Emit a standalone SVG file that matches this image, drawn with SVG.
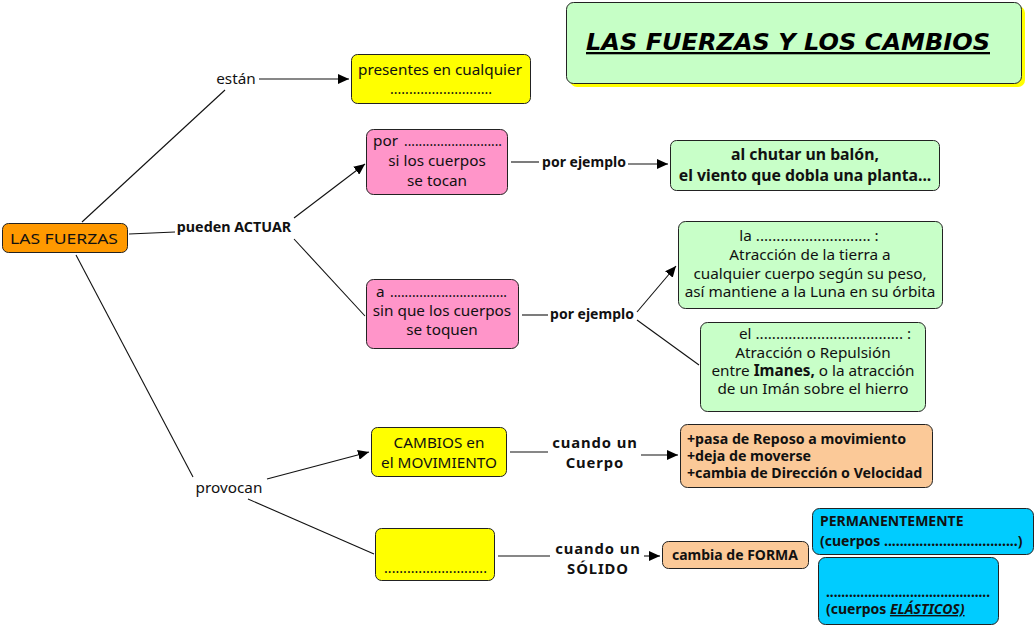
<svg xmlns="http://www.w3.org/2000/svg" width="1036" height="627" viewBox="0 0 1036 627">
<style>
.n{stroke:#222;stroke-width:1}
.t{font-family:"Noto Sans","Open Sans",sans-serif;font-size:15.3px;fill:#111}
.b{font-family:"Noto Sans","Open Sans",sans-serif;font-weight:bold;fill:#111}
.c{text-anchor:middle}
.e{stroke:#111;stroke-width:1.1;fill:none}
.cu{font-size:14.8px;letter-spacing:0.9px}
</style>
<defs>
<marker id="ar" markerUnits="userSpaceOnUse" markerWidth="12" markerHeight="10" refX="11" refY="5" orient="auto">
<path d="M0,0 L11,5 L0,10 Z" fill="#000"/>
</marker>
</defs>
<rect width="1036" height="627" fill="#fff"/>

<g id="connectors">
<line class="e" x1="82" y1="222" x2="225" y2="90"/>
<line class="e" x1="259" y1="79" x2="349" y2="79" marker-end="url(#ar)"/>
<line class="e" x1="129" y1="234" x2="175" y2="232"/>
<line class="e" x1="294" y1="218" x2="365" y2="164" marker-end="url(#ar)"/>
<line class="e" x1="294" y1="239" x2="365" y2="316"/>
<line class="e" x1="511" y1="162" x2="539" y2="162"/>
<line class="e" x1="628" y1="164" x2="668" y2="164" marker-end="url(#ar)"/>
<line class="e" x1="522" y1="315" x2="548" y2="315"/>
<line class="e" x1="637" y1="312" x2="676" y2="266" marker-end="url(#ar)"/>
<line class="e" x1="637" y1="320" x2="699" y2="365"/>
<line class="e" x1="76" y1="255" x2="193" y2="477"/>
<line class="e" x1="267" y1="479" x2="369" y2="452" marker-end="url(#ar)"/>
<line class="e" x1="248" y1="499" x2="374" y2="554"/>
<line class="e" x1="510" y1="452" x2="548" y2="452"/>
<line class="e" x1="641" y1="455" x2="678" y2="455" marker-end="url(#ar)"/>
<line class="e" x1="498" y1="556" x2="550" y2="556"/>
<line class="e" x1="644" y1="556" x2="660" y2="556" marker-end="url(#ar)"/>
</g>

<g id="title">
<rect x="570" y="6" width="455" height="81" rx="7" fill="#ffff00"/>
<rect class="n" x="566.5" y="2.5" width="455" height="81" rx="7" fill="#c6ffc6"/>
<text x="586" y="50" font-family="'DejaVu Sans',Verdana,sans-serif" font-size="23" font-weight="bold" font-style="italic" text-decoration="underline" fill="#000" textLength="404" lengthAdjust="spacingAndGlyphs">LAS FUERZAS Y LOS CAMBIOS</text>
</g>

<g id="lasfuerzas">
<rect class="n" x="2.5" y="223.5" width="125" height="29" rx="6" fill="#ff9900"/>
<text class="t" x="10" y="244" font-size="16" textLength="108" lengthAdjust="spacingAndGlyphs">LAS FUERZAS</text>
</g>

<g id="estan"><text class="t c" x="236" y="84" font-size="16.5">están</text></g>

<g id="presentes">
<rect class="n" x="351.5" y="54.5" width="179" height="49" rx="6" fill="#ffff00"/>
<text class="t c" x="440" y="75">presentes en cualquier</text>
<text class="t" x="390" y="94" textLength="102" lengthAdjust="spacingAndGlyphs">...........................</text>
</g>

<g id="puedenactuar"><text class="b c" x="234" y="232" font-size="14.3">pueden ACTUAR</text></g>

<g id="contacto">
<rect class="n" x="366.5" y="129.5" width="141" height="65" rx="7" fill="#ff95c9"/>
<text class="t" x="373" y="146">por</text>
<text class="t" x="404" y="146" textLength="98" lengthAdjust="spacingAndGlyphs">...........................</text>
<text class="t c" x="437" y="166">si los cuerpos</text>
<text class="t c" x="437" y="186">se tocan</text>
</g>

<g id="porejemplo1"><text class="b c" x="584" y="167" font-size="14">por ejemplo</text></g>

<g id="ejemplo1">
<rect class="n" x="670.5" y="140.5" width="269" height="50" rx="6" fill="#c8ffc8"/>
<text class="b c" x="805" y="160" font-size="15.8">al chutar un balón,</text>
<text class="b c" x="805" y="181" font-size="15.8">el viento que dobla una planta...</text>
</g>

<g id="distancia">
<rect class="n" x="366.5" y="279.5" width="152" height="69" rx="7" fill="#ff95c9"/>
<text class="t" x="376" y="297">a</text>
<text class="t" x="390" y="297" textLength="117" lengthAdjust="spacingAndGlyphs">................................</text>
<text class="t c" x="442" y="316">sin que los cuerpos</text>
<text class="t c" x="442" y="335">se toquen</text>
</g>

<g id="porejemplo2"><text class="b c" x="592" y="319" font-size="14">por ejemplo</text></g>

<g id="gravedad">
<rect class="n" x="678.5" y="221.5" width="264" height="87" rx="7" fill="#c8ffc8"/>
<text class="t c" x="809" y="241">la ............................ :</text>
<text class="t c" x="810" y="260">Atracción de la tierra a</text>
<text class="t c" x="810" y="279">cualquier cuerpo según su peso,</text>
<text class="t c" x="810" y="297">así mantiene a la Luna en su órbita</text>
</g>

<g id="magnetismo">
<rect class="n" x="700.5" y="322.5" width="225" height="89" rx="7" fill="#c8ffc8"/>
<text class="t c" x="825" y="339">el .................................... :</text>
<text class="t c" x="813" y="357.5">Atracción o Repulsión</text>
<text class="t c" x="813" y="376">entre <tspan font-weight="bold">Imanes,</tspan> o la atracción</text>
<text class="t c" x="813" y="394">de un Imán sobre el hierro</text>
</g>

<g id="provocan"><text class="t c" x="229" y="493" font-size="16.5">provocan</text></g>

<g id="movimiento">
<rect class="n" x="371.5" y="427.5" width="135" height="49" rx="6" fill="#ffff00"/>
<text class="t c" x="439" y="448">CAMBIOS en</text>
<text class="t c" x="439" y="468">el MOVIMIENTO</text>
</g>

<g id="cuandocuerpo">
<text class="b c cu" x="595" y="447.5">cuando un</text>
<text class="b c cu" x="595" y="468">Cuerpo</text>
</g>

<g id="efectos">
<rect class="n" x="680.5" y="424.5" width="252" height="63" rx="7" fill="#fbc998"/>
<text class="b" x="687" y="444" font-size="14.2">+pasa de Reposo a movimiento</text>
<text class="b" x="687" y="461" font-size="14.2">+deja de moverse</text>
<text class="b" x="687" y="478" font-size="14.2">+cambia de Dirección o Velocidad</text>
</g>

<g id="deformacion">
<rect class="n" x="375.5" y="528.5" width="119" height="52" rx="6" fill="#ffff00"/>
<text class="t" x="384" y="573" textLength="103" lengthAdjust="spacingAndGlyphs">...........................</text>
</g>

<g id="cuandosolido">
<text class="b c cu" x="598" y="553.5">cuando un</text>
<text class="b c cu" x="598" y="574">SÓLIDO</text>
</g>

<g id="forma">
<rect class="n" x="662.5" y="541.5" width="146" height="27" rx="6" fill="#fbc998"/>
<text class="b c" x="735" y="560" font-size="14">cambia de FORMA</text>
</g>

<g id="permanente">
<rect class="n" x="812.5" y="508.5" width="221" height="46" rx="7" fill="#00ccff"/>
<text class="b" x="820" y="526" font-size="14">PERMANENTEMENTE</text>
<text class="b" x="820" y="546" font-size="14">(cuerpos ..................................)</text>
</g>

<g id="elastico">
<rect class="n" x="818.5" y="557.5" width="180" height="67" rx="7" fill="#00ccff"/>
<text class="b" x="826" y="597" font-size="14" textLength="164" lengthAdjust="spacingAndGlyphs">...........................................</text>
<text class="b" x="826" y="614" font-size="14">(cuerpos <tspan font-style="italic" text-decoration="underline">ELÁSTICOS)</tspan></text>
</g>
</svg>
